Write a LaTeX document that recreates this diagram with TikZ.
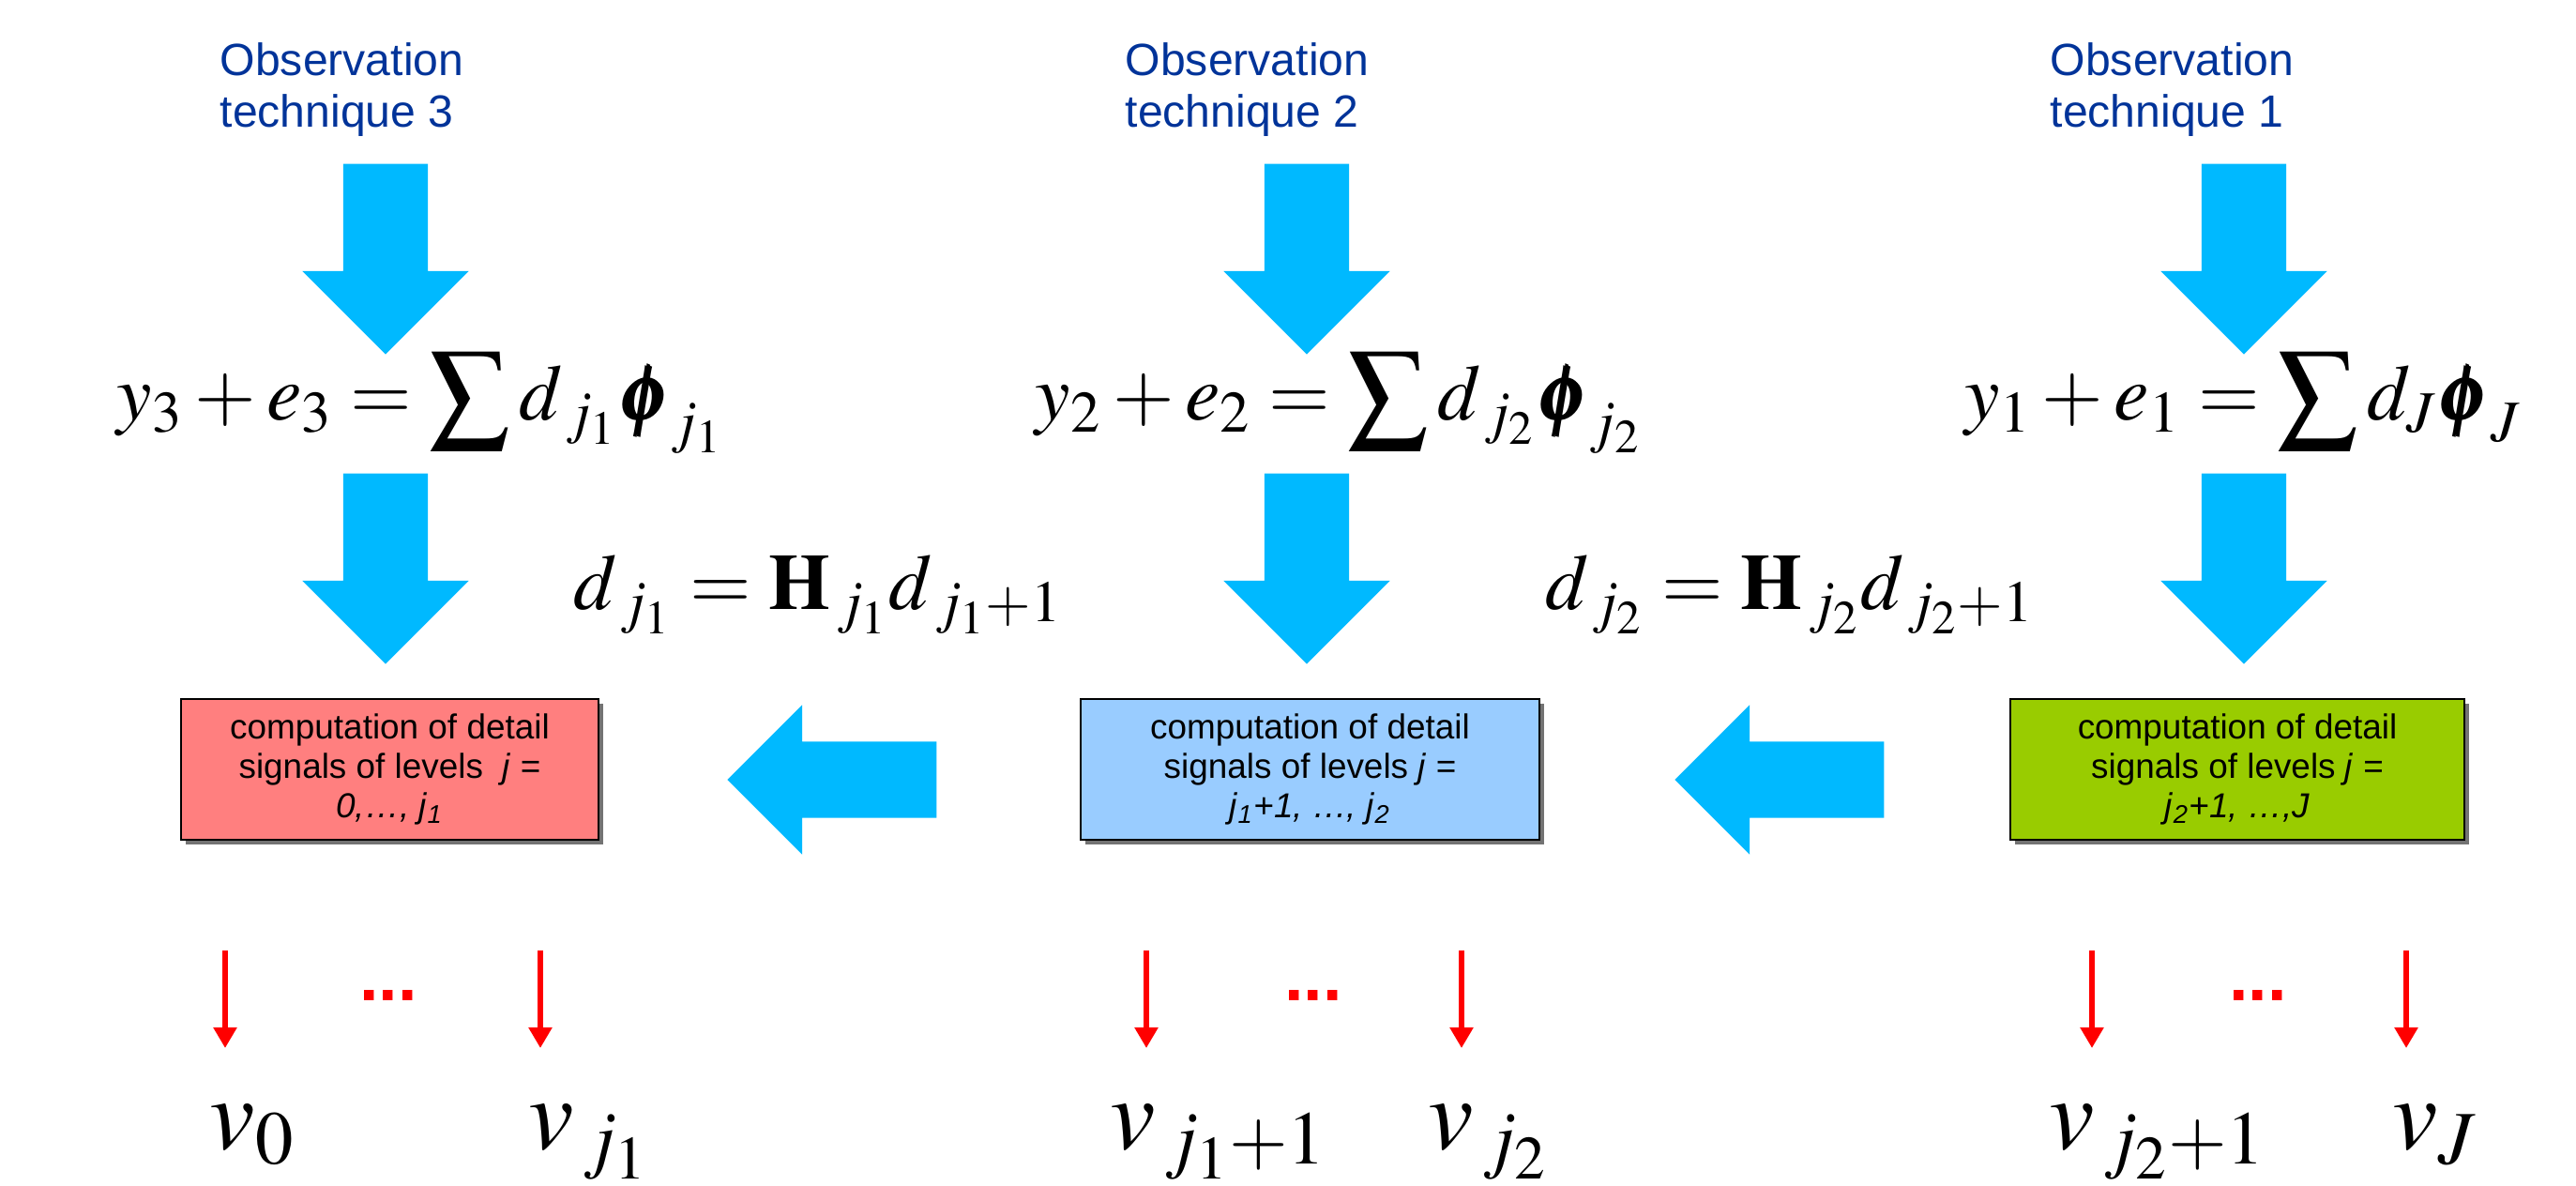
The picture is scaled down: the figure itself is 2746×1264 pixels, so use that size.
\documentclass[tikz,border=0pt]{standalone}
\usepackage{mathptmx}
\usepackage{bm}
\usepackage[no-math]{fontspec}
\setmainfont{Liberation Serif}
\setsansfont{Liberation Sans}
\usetikzlibrary{arrows.meta,shapes.arrows,shadows}
\definecolor{mscyan}{HTML}{00B9FF}
\definecolor{msnavy}{HTML}{003399}
\definecolor{msred}{HTML}{FF7F7F}
\definecolor{msblue}{HTML}{99CCFF}
\definecolor{msgreen}{HTML}{99CC00}
\tikzset{
  ms title/.style={font=\sffamily\fontsize{13.7}{15.6}\selectfont, text=msnavy,
    align=left, anchor=north west, inner sep=0pt},
  ms block/.style={single arrow, fill=mscyan, draw=none, inner xsep=0pt,
    single arrow tip angle=90, anchor=tail},
  ms down/.style={ms block, rotate=-90, minimum height=20.3mm, inner ysep=4.45mm,
    single arrow head extend=4.35mm},
  ms left/.style={ms block, rotate=180, minimum height=22.3mm, inner ysep=4mm,
    single arrow head extend=3.9mm},
  ms eq/.style={font=\fontsize{24}{28}\selectfont, inner sep=0pt, anchor=base},
  ms box/.style={draw=black, line width=0.6pt, minimum height=15mm, align=center,
    inner sep=0pt, font=\sffamily\fontsize{10.5}{11.9}\selectfont,
    drop shadow={shadow xshift=0.45mm, shadow yshift=-0.45mm, fill=black!55, opacity=1}},
  ms out/.style={-{Triangle[length=2.2mm,width=2.4mm]}, draw=red, line width=0.65mm},
  ms dots/.style={text=red, font=\sffamily\bfseries\fontsize{21}{22}\selectfont,
    inner sep=0pt, anchor=base},
  ms var/.style={font=\fontsize{31}{33}\selectfont, inner sep=0pt, anchor=base west}
}

\begin{document}
\begin{tikzpicture}[x=0.1mm, y=-0.1mm]
  \useasboundingbox (0,0) rectangle (2746,1264);
  \node[ms title] (obs3) at (234,45) {Observation\\technique 3};
  \node[ms title] (obs2) at (1199,45) {Observation\\technique 2};
  \node[ms title] (obs1) at (2185,45) {Observation\\technique 1};
  \node[ms down] (in3) at (411,174) {};
  \node[ms down] (in2) at (1393,174) {};
  \node[ms down] (in1) at (2392,174) {};
  \node[ms eq] (sum3) at (448,448) {$y_3 + e_3 = \displaystyle\sum d_{\,j_1}\bm{\phi}_{j_1}$};
  \node[ms eq] (sum2) at (1427,448) {$y_2 + e_2 = \displaystyle\sum d_{\,j_2}\bm{\phi}_{j_2}$};
  \node[ms eq] (sum1) at (2391,448) {$y_1 + e_1 = \displaystyle\sum d_{J}\bm{\phi}_{J}$};
  \node[ms down] (mid3) at (411,504) {};
  \node[ms down] (mid2) at (1393,504) {};
  \node[ms down] (mid1) at (2392,504) {};
  \node[ms eq] (rec1) at (872,650) {$d_{\,j_1} = \mathbf{H}_{\,j_1} d_{\,j_1+1}$};
  \node[ms eq] (rec2) at (1908,650) {$d_{\,j_2} = \mathbf{H}_{\,j_2} d_{\,j_2+1}$};
  \node[ms box, fill=msred, minimum width=44.5mm] (box3) at (415.5,820)
    {computation of detail\\signals of levels \ \textit{j} =\\\textit{0,\dots, j}\textsubscript{\textit{1}}};
  \node[ms box, fill=msblue, minimum width=48.9mm] (box2) at (1396.5,820)
    {computation of detail\\signals of levels \textit{j} =\\\textit{j}\textsubscript{\textit{1}}\textit{+1, \dots, j}\textsubscript{\textit{2}}};
  \node[ms box, fill=msgreen, minimum width=48.4mm] (box1) at (2385,820)
    {computation of detail\\signals of levels \textit{j} =\\\textit{j}\textsubscript{\textit{2}}\textit{+1, \dots,J}};
  \node[ms left] (pass2) at (999,831) {};
  \node[ms left] (pass1) at (2009,831) {};
  \coordinate (a0) at (240,1013); \coordinate (b0) at (240,1117);
  \coordinate (a1) at (576,1013); \coordinate (b1) at (576,1117);
  \coordinate (a2) at (1222,1013); \coordinate (b2) at (1222,1117);
  \coordinate (a3) at (1558,1013); \coordinate (b3) at (1558,1117);
  \coordinate (a4) at (2230,1013); \coordinate (b4) at (2230,1117);
  \coordinate (a5) at (2565,1013); \coordinate (b5) at (2565,1117);
  \draw[ms out] (a0) -- (b0);
  \draw[ms out] (a1) -- (b1);
  \draw[ms out] (a2) -- (b2);
  \draw[ms out] (a3) -- (b3);
  \draw[ms out] (a4) -- (b4);
  \draw[ms out] (a5) -- (b5);
  \node[ms dots] (dots3) at (414,1066) {...};
  \node[ms dots] (dots2) at (1400,1066) {...};
  \node[ms dots] (dots1) at (2407,1066) {...};
  \node[ms var] (v0) at (223,1224) {$v_{0}$};
  \node[ms var] (vj1) at (563,1224) {$v_{\,j_1}$};
  \node[ms var] (vj1p) at (1183,1224) {$v_{\,j_1+1}$};
  \node[ms var] (vj2) at (1522,1224) {$v_{\,j_2}$};
  \node[ms var] (vj2p) at (2184,1224) {$v_{\,j_2+1}$};
  \node[ms var] (vJ) at (2550,1224) {$v_{J}$};
\end{tikzpicture}
\end{document}
